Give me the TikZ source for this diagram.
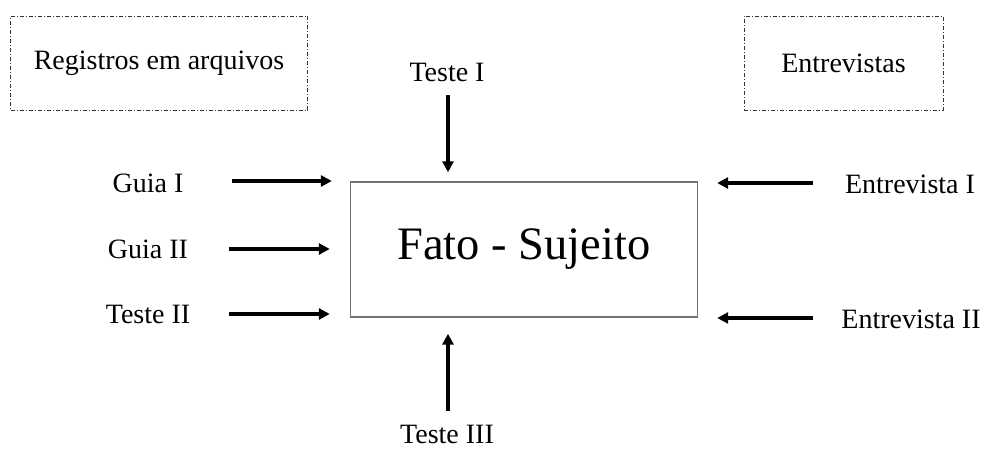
\documentclass[tikz,border=0pt]{standalone}
\usepackage{fontspec}
\setmainfont{Liberation Serif}
\usetikzlibrary{arrows.meta}

\begin{document}
\begin{tikzpicture}[x=1pt,y=-1pt]
        \tikzset{label text/.style={inner sep=0pt,font=\fontsize{28}{33}\selectfont},
            source box/.style={draw=black!80,line width=1pt,
                dash pattern=on 4pt off 2pt on 1pt off 2pt,
                font=\fontsize{28}{33}\selectfont},
            fact box/.style={draw=black!55,line width=1.4pt,
                font=\fontsize{46.5}{54}\selectfont},
            feed/.style={line width=3.2pt,-{Triangle[length=11pt,width=11pt]}}}
        \useasboundingbox (0,0) rectangle (983,450);
        % sources
        \node[source box,minimum width=297pt,minimum height=94pt] (arquivos) at (159,63) {Registros em arquivos};
        \node[source box,minimum width=199pt,minimum height=94pt] (entrevistas) at (843.5,63) {Entrevistas};
        % central fact
        \node[fact box,minimum width=347pt,minimum height=135pt] (fato) at (524,249.5) {Fato - Sujeito};
        % instruments
        \node[label text] (guia1) at (148,183) {Guia I};
        \node[label text] (guia2) at (148,249) {Guia II};
        \node[label text] (teste2) at (148,314) {Teste II};
        \node[label text] (teste1) at (447,72) {Teste I};
        \node[label text] (teste3) at (447,434) {Teste III};
        \node[label text] (entrev1) at (910,184) {Entrevista I};
        \node[label text] (entrev2) at (911,319) {Entrevista II};
        % arrow tails
        \coordinate (g1) at (232,181);
        \coordinate (g2) at (229,249);
        \coordinate (t2) at (229,314);
        \coordinate (t1) at (448,95);
        \coordinate (t3) at (448,411);
        \coordinate (e1) at (813,183);
        \coordinate (e2) at (813,318);
        \draw[feed,shorten >=18pt] (g1) -- (g1 -| fato.west);
        \draw[feed,shorten >=20pt] (g2) -- (g2 -| fato.west);
        \draw[feed,shorten >=20pt] (t2) -- (t2 -| fato.west);
        \draw[feed,shorten >=9pt] (t1) -- (t1 |- fato.north);
        \draw[feed,shorten >=16pt] (t3) -- (t3 |- fato.south);
        \draw[feed,shorten >=19pt] (e1) -- (e1 -| fato.east);
        \draw[feed,shorten >=19pt] (e2) -- (e2 -| fato.east);
\end{tikzpicture}
\end{document}
